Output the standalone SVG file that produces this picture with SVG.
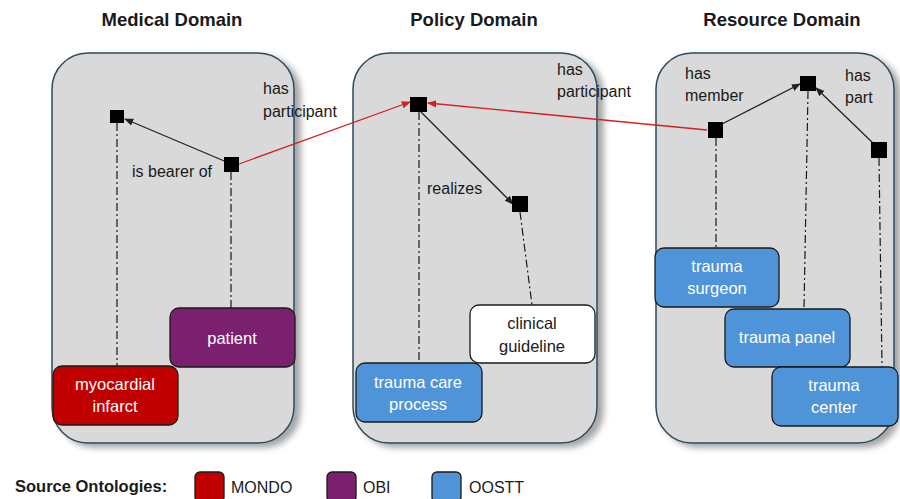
<svg xmlns="http://www.w3.org/2000/svg" width="900" height="499" viewBox="0 0 900 499">
<defs>
<style>
.title{font-family:"Liberation Sans",Arial,sans-serif;font-weight:bold;font-size:18.5px;fill:#1a1a1a;text-anchor:middle}
.lbl{font-family:"Liberation Sans",Arial,sans-serif;font-size:16px;fill:#1a1a1a}
.btxt{font-family:"Liberation Sans",Arial,sans-serif;font-size:16.5px;fill:#fff;text-anchor:middle}
.panel{fill:#d9d9d9;stroke:#2e4a5c;stroke-width:1.5}
.box{stroke:#1a1a1a;stroke-width:1.3}
.sq{fill:#000}
.dd{stroke:#1a1a1a;stroke-width:1.2;stroke-dasharray:8 3 2 3;fill:none}
.blk{stroke:#222;stroke-width:1.3;fill:none}
.red{stroke:#d42020;stroke-width:1.3;fill:none}
</style>
<filter id="sh" x="-10%" y="-10%" width="130%" height="130%">
<feDropShadow dx="6" dy="4" stdDeviation="3" flood-color="#000" flood-opacity="0.35"/>
</filter>
<marker id="ab" viewBox="0 0 10 10" refX="9" refY="5" markerWidth="7" markerHeight="7" orient="auto"><path d="M0,1 L10,5 L0,9 z" fill="#222"/></marker>
<marker id="ar" viewBox="0 0 10 10" refX="9" refY="5" markerWidth="7" markerHeight="7" orient="auto"><path d="M0,1 L10,5 L0,9 z" fill="#d42020"/></marker>
</defs>
<rect width="900" height="499" fill="#fff"/>

<text class="title" x="172" y="26">Medical Domain</text>
<text class="title" x="474" y="26">Policy Domain</text>
<text class="title" x="782" y="26">Resource Domain</text>

<g id="panel-medical"><rect class="panel" x="52" y="53" width="242" height="390" rx="36" filter="url(#sh)"/></g>
<g id="panel-policy"><rect class="panel" x="353" y="53" width="244" height="390" rx="36" filter="url(#sh)"/></g>
<g id="panel-resource"><rect class="panel" x="656" y="53" width="238" height="390" rx="36" filter="url(#sh)"/></g>

<g id="connectors">
<line class="dd" x1="117" y1="123" x2="117" y2="366"/>
<line class="dd" x1="231" y1="172" x2="231" y2="308"/>
<line class="dd" x1="419" y1="112" x2="419" y2="363"/>
<line class="dd" x1="520" y1="212" x2="532" y2="305"/>
<line class="dd" x1="716" y1="138" x2="716" y2="248"/>
<line class="dd" x1="808" y1="91" x2="804" y2="309"/>
<line class="dd" x1="879" y1="158" x2="882" y2="367"/>
<line class="blk" x1="229" y1="163" x2="125" y2="119" marker-end="url(#ab)"/>
<line class="blk" x1="421" y1="112" x2="513" y2="204" marker-end="url(#ab)"/>
<line class="blk" x1="722" y1="124" x2="800" y2="84" marker-end="url(#ab)"/>
<line class="blk" x1="874" y1="144" x2="816" y2="88" marker-end="url(#ab)"/>
<line class="red" x1="239" y1="164" x2="410" y2="102" marker-end="url(#ar)"/>
<line class="red" x1="707" y1="130" x2="428" y2="103" marker-end="url(#ar)"/>
</g>

<g id="labels">
<text class="lbl" x="132" y="177">is bearer of</text>
<text class="lbl" x="263" y="94">has</text>
<text class="lbl" x="263" y="117">participant</text>
<text class="lbl" x="427" y="194">realizes</text>
<text class="lbl" x="557" y="75">has</text>
<text class="lbl" x="557" y="97">participant</text>
<text class="lbl" x="685" y="79">has</text>
<text class="lbl" x="685" y="101">member</text>
<text class="lbl" x="845" y="81">has</text>
<text class="lbl" x="845" y="103">part</text>
</g>

<g id="n-med-a"><rect class="sq" x="110" y="110" width="14" height="13"/></g>
<g id="n-med-b"><rect class="sq" x="224" y="157" width="15" height="15"/></g>
<g id="n-pol-a"><rect class="sq" x="410" y="97" width="17" height="15"/></g>
<g id="n-pol-b"><rect class="sq" x="512" y="196" width="16" height="16"/></g>
<g id="n-res-a"><rect class="sq" x="708" y="122" width="15" height="16"/></g>
<g id="n-res-b"><rect class="sq" x="800" y="76" width="16" height="15"/></g>
<g id="n-res-c"><rect class="sq" x="871" y="142" width="16" height="16"/></g>

<g id="patient"><rect class="box" x="170" y="308" width="125" height="59" rx="9" fill="#7b206e"/><text class="btxt" x="232" y="344">patient</text></g>
<g id="myocardial-infarct"><rect class="box" x="53" y="366" width="125" height="59" rx="9" fill="#c00000"/><text class="btxt" x="115" y="390">myocardial</text><text class="btxt" x="115" y="412">infarct</text></g>
<g id="clinical-guideline"><rect class="box" x="470" y="305" width="125" height="58" rx="9" fill="#fff"/><text class="btxt" x="532" y="329" style="fill:#1a1a1a">clinical</text><text class="btxt" x="532" y="352" style="fill:#1a1a1a">guideline</text></g>
<g id="trauma-care-process"><rect class="box" x="356" y="363" width="126" height="59" rx="9" fill="#4f93d9"/><text class="btxt" x="418" y="388">trauma care</text><text class="btxt" x="418" y="410">process</text></g>
<g id="trauma-surgeon"><rect class="box" x="655" y="248" width="124" height="59" rx="9" fill="#4f93d9"/><text class="btxt" x="717" y="272">trauma</text><text class="btxt" x="717" y="294">surgeon</text></g>
<g id="trauma-panel"><rect class="box" x="725" y="309" width="125" height="58" rx="9" fill="#4f93d9"/><text class="btxt" x="787" y="343">trauma panel</text></g>
<g id="trauma-center"><rect class="box" x="772" y="367" width="126" height="59" rx="9" fill="#4f93d9"/><text class="btxt" x="834" y="391">trauma</text><text class="btxt" x="834" y="413">center</text></g>

<g id="legend">
<text class="title" x="15" y="492" style="text-anchor:start;font-size:16.5px">Source Ontologies:</text>
<rect class="box" x="195" y="472" width="29" height="30" rx="5" fill="#c00000"/>
<text class="lbl" x="231" y="493">MONDO</text>
<rect class="box" x="327" y="472" width="29" height="30" rx="5" fill="#7b206e"/>
<text class="lbl" x="363" y="493">OBI</text>
<rect class="box" x="432" y="472" width="29" height="30" rx="5" fill="#4f93d9"/>
<text class="lbl" x="469" y="493">OOSTT</text>
</g>
</svg>
